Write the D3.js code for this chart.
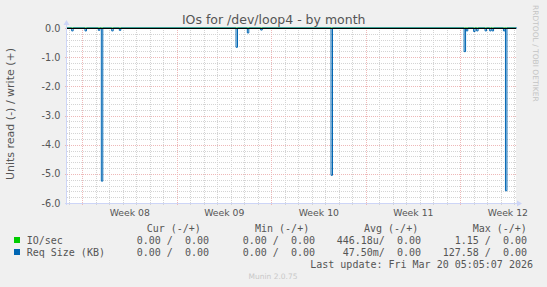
<!DOCTYPE html>
<html>
<head>
<meta charset="utf-8">
<script src="https://cdn.jsdelivr.net/npm/d3@7"></script>
<style>
  html, body { margin: 0; padding: 0; background: #f0f0f0; }
  svg { display: block; }
  text { white-space: pre; }
</style>
</head>
<body>
<svg id="chart" width="547" height="287"></svg>
<script>
// ---------------- DATA ----------------
const title = "IOs for /dev/loop4 - by month";
const yAxisTitle = "Units read (-) / write (+)";
const timeStart = "2026-02-14T21:20:00Z";
const timeEnd = "2026-03-20T05:05:07Z";
const weekStarts = ["2026-02-16", "2026-02-23", "2026-03-02", "2026-03-09", "2026-03-16"];
const weekLabels = ["Week 08", "Week 09", "Week 10", "Week 11", "Week 12"];
const yTicks = [0, -1, -2, -3, -4, -5, -6];
const yTickLabels = ["0.0", "-1.0", "-2.0", "-3.0", "-4.0", "-5.0", "-6.0"];
const yMinorTicks = d3.range(-60, 1, 2).map(v => v / 10);

// Req Size (KB), read side (plotted negative): time of each non-zero sample and its value
const reqReadTimes = [
  "2026-02-15T05:40:00Z", "2026-02-16T05:20:00Z", "2026-02-17T05:00:00Z", "2026-02-17T10:20:00Z",
  "2026-02-18T04:50:00Z", "2026-02-18T18:20:00Z", "2026-02-27T09:45:00Z", "2026-02-28T05:50:00Z",
  "2026-03-01T05:40:00Z", "2026-03-06T10:35:00Z", "2026-03-16T07:05:00Z", "2026-03-16T11:00:00Z",
  "2026-03-17T00:00:00Z", "2026-03-17T05:20:00Z", "2026-03-17T20:20:00Z", "2026-03-18T04:30:00Z",
  "2026-03-18T08:50:00Z", "2026-03-19T05:00:00Z", "2026-03-19T08:35:00Z"
];
const reqReadValues = [
  -0.10, -0.10, -0.08, -5.25,
  -0.10, -0.08, -0.66, -0.17,
  -0.07, -5.05, -0.81, -0.10,
  -0.12, -0.10, -0.10, -0.10,
  -0.10, -0.10, -5.58
];

// Legend
const legendSeries = ["IO/sec", "Req Size (KB)"];
const legendColors = ["#00cc00", "#0066b3"];
const legendHeaders = ["Cur (-/+)", "Min (-/+)", "Avg (-/+)", "Max (-/+)"];
const legendCur = ["0.00 /  0.00", "0.00 /  0.00"];
const legendMin = ["0.00 /  0.00", "0.00 /  0.00"];
const legendAvg = ["446.18u/  0.00", "47.50m/  0.00"];
const legendMax = ["1.15 /  0.00", "127.58 /  0.00"];
const lastUpdate = "Last update: Fri Mar 20 05:05:07 2026";
const footer = "Munin 2.0.75";
const sideText = "RRDTOOL / TOBI OETIKER";

// ---------------- LAYOUT ----------------
const pLeft = 67, pRight = 517, pTop = 28, pBottom = 203;
const textColor = "#555";
const sans = "DejaVu Sans, sans-serif";
const mono = "DejaVu Sans Mono, monospace";
const stepMs = 2.6 * 3600 * 1000;

const svg = d3.select("#chart");
svg.append("rect").attr("width", 547).attr("height", 287).attr("fill", "#f0f0f0");

const x = d3.scaleUtc().domain([new Date(timeStart), new Date(timeEnd)]).range([pLeft, pRight]);
const y = d3.scaleLinear().domain([-6, 0]).range([pBottom, pTop]);

// canvas
svg.append("rect").attr("x", pLeft).attr("y", pTop)
  .attr("width", pRight - pLeft - 1).attr("height", pBottom - pTop).attr("fill", "#ffffff");

const grid = svg.append("g").attr("shape-rendering", "crispEdges");
const days = d3.utcDay.range(x.domain()[0], x.domain()[1]);
const mondays = weekStarts.map(d => new Date(d + "T00:00:00Z"));
const mondaySet = new Set(mondays.map(d => +d));
const minorColor = "#d4d4d4", majorColor = "#eeb8b8";

// minor horizontal
grid.selectAll("line.hmin").data(yMinorTicks.filter(v => !yTicks.includes(v)))
  .join("line")
  .attr("x1", pLeft).attr("x2", pRight - 1)
  .attr("y1", d => Math.round(y(d)) + 0.5).attr("y2", d => Math.round(y(d)) + 0.5)
  .attr("stroke", minorColor).attr("stroke-dasharray", "1,1");
// minor vertical (days)
grid.selectAll("line.vmin").data(days.filter(d => !mondaySet.has(+d)))
  .join("line")
  .attr("x1", d => Math.round(x(d)) + 0.5).attr("x2", d => Math.round(x(d)) + 0.5)
  .attr("y1", pTop).attr("y2", pBottom + 2)
  .attr("stroke", minorColor).attr("stroke-dasharray", "1,1");
// major horizontal
grid.selectAll("line.hmaj").data(yTicks)
  .join("line")
  .attr("x1", pLeft - 2).attr("x2", pRight - 1)
  .attr("y1", d => Math.round(y(d)) + 0.5).attr("y2", d => Math.round(y(d)) + 0.5)
  .attr("stroke", majorColor).attr("stroke-dasharray", "1,1");
// major vertical (weeks)
grid.selectAll("line.vmaj").data(mondays)
  .join("line")
  .attr("x1", d => Math.round(x(d)) + 0.5).attr("x2", d => Math.round(x(d)) + 0.5)
  .attr("y1", pTop).attr("y2", pBottom + 3)
  .attr("stroke", majorColor).attr("stroke-dasharray", "1,1");

// axes lines + arrows
const axisColor = "#cdd5f7";
svg.append("line").attr("x1", pLeft - 0.5).attr("x2", pLeft - 0.5).attr("y1", pBottom + 2).attr("y2", pTop - 4)
  .attr("stroke", axisColor);
svg.append("path").attr("d", `M${pLeft - 3.5},${pTop - 3} L${pLeft - 0.5},${pTop - 8} L${pLeft + 2.5},${pTop - 3} Z`)
  .attr("fill", axisColor);
svg.append("line").attr("x1", pLeft - 2).attr("x2", pRight + 1).attr("y1", pBottom + 0.5).attr("y2", pBottom + 0.5)
  .attr("stroke", axisColor);
svg.append("path").attr("d", `M${pRight},${pBottom - 2.5} L${pRight + 5},${pBottom + 0.5} L${pRight},${pBottom + 3.5} Z`)
  .attr("fill", axisColor);

// data line (Req Size read)
const pts = [{t: x.domain()[0], v: 0}];
reqReadTimes.forEach((ts, i) => {
  const t = new Date(ts);
  const t2 = new Date(+t + stepMs);
  pts.push({t, v: 0}, {t, v: reqReadValues[i]}, {t: t2, v: reqReadValues[i]}, {t: t2, v: 0});
});
pts.push({t: x.domain()[1], v: 0});
const line = d3.line().x(d => x(d.t)).y(d => y(d.v));

// IO/sec read (zero at this scale)
svg.append("line").attr("x1", pLeft).attr("x2", pRight - 1).attr("y1", y(0)).attr("y2", y(0))
  .attr("stroke", legendColors[0]);
svg.append("path").datum(pts).attr("d", line)
  .attr("fill", "none").attr("stroke", legendColors[1]).attr("stroke-width", 1);

// zero line
svg.append("line").attr("x1", pLeft).attr("x2", pRight - 1)
  .attr("y1", Math.round(y(0)) + 0.5).attr("y2", Math.round(y(0)) + 0.5)
  .attr("stroke", "#000").attr("shape-rendering", "crispEdges");

// Y axis labels
const yAxis = svg.append("g").attr("transform", `translate(${pLeft},0)`)
  .call(d3.axisLeft(y).tickValues(yTicks).tickSize(0).tickPadding(6.5)
    .tickFormat((d, i) => yTickLabels[i]));
yAxis.select(".domain").remove();
yAxis.selectAll("text").attr("font-family", sans).attr("font-size", "9.7px").attr("fill", textColor);

// X axis labels (centered in each week)
const weekMids = mondays.map(d => new Date(+d + 3.5 * 86400000));
const xAxis = svg.append("g").attr("transform", `translate(0,${pBottom})`)
  .call(d3.axisBottom(x).tickValues(weekMids).tickSize(0).tickPadding(6)
    .tickFormat((d, i) => weekLabels[i]));
xAxis.select(".domain").remove();
xAxis.selectAll("text").attr("font-family", sans).attr("font-size", "9.3px").attr("fill", textColor);

// titles
svg.append("text").attr("x", 273.7).attr("y", 24).attr("text-anchor", "middle")
  .attr("font-family", sans).attr("font-size", "12.5px").attr("fill", textColor).text(title);
svg.append("text").attr("transform", "translate(14,114) rotate(-90)").attr("text-anchor", "middle")
  .attr("font-family", sans).attr("font-size", "11px").attr("fill", textColor).text(yAxisTitle);
svg.append("text").attr("transform", "translate(533,5) rotate(90)").attr("text-anchor", "start")
  .attr("font-family", sans).attr("font-size", "7.5px").attr("fill", "#c4c4c4").text(sideText);

// legend
const lg = svg.append("g").attr("font-family", mono).attr("font-size", "10px").attr("fill", textColor);
const headerX = [146.7, 255, 364, 472.7];
legendHeaders.forEach((h, i) => lg.append("text").attr("x", headerX[i]).attr("y", 232).text(h));
const rowY = [244, 256];
const colEnd = [209, 315, 421, 527];
const cols = [legendCur, legendMin, legendAvg, legendMax];
legendSeries.forEach((s, r) => {
  lg.append("rect").attr("x", 14).attr("y", rowY[r] - 7).attr("width", 6).attr("height", 6)
    .attr("fill", legendColors[r]);
  lg.append("text").attr("x", 26.7).attr("y", rowY[r]).text(s);
  cols.forEach((c, ci) => lg.append("text").attr("x", colEnd[ci]).attr("y", rowY[r])
    .attr("text-anchor", "end").text(c[r]));
});
lg.append("text").attr("x", 533).attr("y", 267.5).attr("text-anchor", "end").text(lastUpdate);
svg.append("text").attr("x", 273).attr("y", 279).attr("text-anchor", "middle")
  .attr("font-family", sans).attr("font-size", "7.5px").attr("fill", "#c8c8c8").text(footer);
</script>
</body>
</html>
